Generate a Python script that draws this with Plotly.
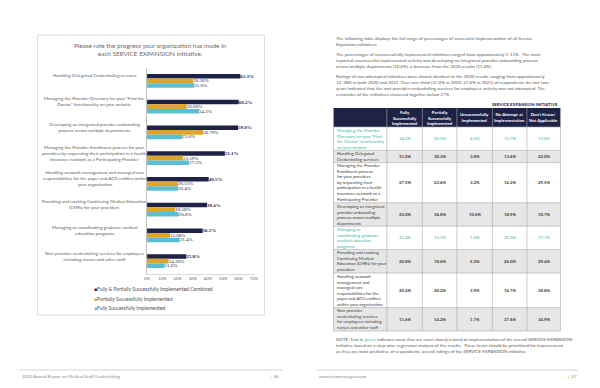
import plotly.graph_objects as go

W, H = 600, 388

# ---------------- data (left chart) ----------------
categories = [
    "Handling Delegated Credentialing services",
    "Managing the Provider Directory for your \"Find the<br>Doctor\" functionality on your website",
    "Developing an integrated provider onboarding<br>process across multiple departments",
    "Managing the Provider Enrollment process for your<br>providers by requesting their participation in a health<br>insurance network as a Participating Provider",
    "Handling network management and managed care<br>responsibilities for the payer and ACO entities within<br>your organization",
    "Providing and tracking Continuing Medical Education<br>(CMEs) for your providers",
    "Managing or coordinating graduate medical<br>education programs",
    "Non-provider credentialing services for employees<br>including nurses and other staff",
]
combined = [61.3, 60.2, 59.8, 51.1, 40.5, 39.4, 36.5, 25.8]
partial = [30.30, 26.00, 36.79, 23.59, 20.15, 18.58, 15.08, 14.20]
fully = [31.0, 34.2, 23.0, 27.5, 20.4, 20.8, 21.4, 11.6]
series_names = [
    "Fully & Partially Successfully Implemented Combined",
    "Partially Successfully Implemented",
    "Fully Successfully Implemented",
]
x_ticks = [0, 10, 20, 30, 40, 50, 60, 70]
x_tick_labels = ["0%", "10%", "20%", "30%", "40%", "50%", "60%", "70%"]

# ---------------- data (right table) ----------------
table_rows = [
    "Managing the Provider<br>Directory for your \"Find<br>the Doctor\" functionality<br>on your website",
    "Handling Delegated<br>Credentialing services",
    "Managing the Provider<br>Enrollment process<br>for your providers<br>by requesting their<br>participation in a health<br>insurance network as a<br>Participating Provider",
    "Developing an integrated<br>provider onboarding<br>process across multiple<br>departments",
    "Managing or<br>coordinating graduate<br>medical education<br>programs",
    "Providing and tracking<br>Continuing Medical<br>Education (CMEs) for your<br>providers",
    "Handling network<br>management and<br>managed care<br>responsibilities for the<br>payer and ACO entities<br>within your organization",
    "Non-provider<br>credentialing services<br>for employees including<br>nurses and other staff",
]
table_headers = [
    "",
    "Fully<br>Successfully<br>Implemented",
    "Partially<br>Successfully<br>Implemented",
    "Unsuccessfully<br>Implemented",
    "No Attempt at<br>Implementation",
    "Don't Know/<br>Not Applicable",
]
t_fully = [34.2, 31.0, 27.5, 23.0, 21.4, 20.8, 20.4, 11.6]
t_partial = [26.0, 30.3, 23.6, 36.8, 15.1, 18.6, 20.2, 14.2]
t_unsucc = [4.5, 3.0, 3.2, 10.6, 5.5, 5.2, 3.9, 1.7]
t_noattempt = [15.7, 13.6, 16.2, 18.9, 20.3, 26.0, 16.7, 37.6]
t_dontknow = [19.6, 22.0, 29.5, 10.7, 37.7, 29.4, 38.8, 34.9]
green_rows = [0, 4]

# ---------------- styles ----------------
NAVY = "#1E2247"
GOLD = "#DFA428"
CYAN = "#5CBED2"
TEAL = "#3DB5A6"
GREY_TXT = "#6B6B6B"
FONT = "Lato"


def px(x):
    return x / W


def py(y):
    return 1 - y / H


fig = go.Figure()
label_font = dict(family="Liberation Serif", size=5, color=NAVY)
for vals, name, color, fmt, bold in [
    (combined, series_names[0], NAVY, "{:.1f}%", True),
    (partial, series_names[1], GOLD, "{:.2f}%", False),
    (fully, series_names[2], CYAN, "{:.1f}%", False),
]:
    txt = [("<b>%s</b>" % fmt.format(v)) if bold else fmt.format(v) for v in vals]
    fig.add_trace(go.Bar(
        y=categories, x=vals, name=name, orientation="h",
        marker=dict(color=color, line=dict(width=0)),
        text=txt, textposition="outside", textfont=label_font,
        cliponaxis=False, constraintext="none", showlegend=False,
        hoverinfo="x+name",
    ))

annotations = []
shapes = []

# category labels (centered text, left of axis)
for c in categories:
    annotations.append(dict(
        xref="paper", yref="y", x=px(93), y=c, text=c, showarrow=False,
        xanchor="center", yanchor="middle", align="center", yshift=5,
        font=dict(family=FONT, size=4.5, color="#5E5E5E"),
    ))
# legend entries
for name, color, yy in zip(series_names, [NAVY, GOLD, CYAN], [289, 299, 308]):
    annotations.append(dict(
        xref="paper", yref="paper", x=px(90), y=py(yy), showarrow=False,
        xanchor="left", yanchor="middle", align="left",
        text="<span style='color:%s'>■</span>%s" % (color, name),
        font=dict(family=FONT, size=5, color="#505050"),
    ))

# ---------------- table (drawn as cells) ----------------
col_edges = [335, 389, 425, 460, 496, 531, 565]
header_top, header_h = 108, 19
LINE_H, ROW_PAD = 5.6, 1.0
BORDER = "#A9A9A9"

shapes.append(dict(type="rect", xref="paper", yref="paper", layer="below",
                   x0=px(col_edges[0]), x1=px(col_edges[-1]),
                   y0=py(header_top + header_h), y1=py(header_top),
                   fillcolor=NAVY, line=dict(width=0)))
for j, htxt in enumerate(table_headers):
    if htxt:
        annotations.append(dict(
            xref="paper", yref="paper", x=px((col_edges[j] + col_edges[j + 1]) / 2),
            y=py(header_top + header_h / 2), text="<b>%s</b>" % htxt, showarrow=False,
            xanchor="center", yanchor="middle", align="center",
            font=dict(family=FONT, size=4.3, color="white")))

value_cols = [t_fully, t_partial, t_unsucc, t_noattempt, t_dontknow]
row_top = header_top + header_h
row_bounds = [row_top]
for i, lab in enumerate(table_rows):
    n_lines = lab.count("<br>") + 1
    h = n_lines * LINE_H + ROW_PAD
    y0, y1 = row_top, row_top + h
    if i % 2 == 1:
        shapes.append(dict(type="rect", xref="paper", yref="paper", layer="below",
                           x0=px(col_edges[0]), x1=px(col_edges[-1]), y0=py(y1), y1=py(y0),
                           fillcolor="#E7E7E7", line=dict(width=0)))
    green = i in green_rows
    color = TEAL if green else "#3A3A3A"
    annotations.append(dict(
        xref="paper", yref="paper", x=px(col_edges[0] + 1.5), y=py((y0 + y1) / 2),
        text=lab, showarrow=False, xanchor="left", yanchor="middle", align="left",
        font=dict(family=FONT, size=4.3, color=color)))
    for j, col in enumerate(value_cols):
        v = "%.1f%%" % col[i]
        annotations.append(dict(
            xref="paper", yref="paper", x=px((col_edges[j + 1] + col_edges[j + 2]) / 2),
            y=py((y0 + y1) / 2), text=v if green else "<b>%s</b>" % v, showarrow=False,
            xanchor="center", yanchor="middle",
            font=dict(family=FONT, size=4.3, color=color)))
    row_top = y1
    row_bounds.append(row_top)

table_bottom = row_top
for yb in row_bounds:
    shapes.append(dict(type="line", xref="paper", yref="paper",
                       x0=px(col_edges[0]), x1=px(col_edges[-1]), y0=py(yb), y1=py(yb),
                       line=dict(color=BORDER, width=0.6)))
for k, xe in enumerate(col_edges):
    shapes.append(dict(type="line", xref="paper", yref="paper",
                       x0=px(xe), x1=px(xe), y0=py(table_bottom), y1=py(header_top),
                       line=dict(color=BORDER, width=0.6)))

# ---------------- right page text ----------------
para_font = dict(family=FONT, size=4.5, color="#5A5A5A")
paras = [
    (34, "The following table displays the full range of percentages of successful implementation of all Service<br>"
         "Expansion initiatives."),
    (50, "The percentages of unsuccessfully implemented initiatives ranged from approximately 1-11%.  The most<br>"
         "reported unsuccessful implemented activity was developing an integrated provider onboarding process<br>"
         "across multiple departments (10.6%), a decrease from the 2020 results (11.4%)."),
    (72, "Ratings of non-attempted initiatives were almost identical to the 2020 results, ranging from approximately<br>"
         "12-38% in both 2020 and 2021. Over one-third (37.0% in 2020, 37.6% in 2021) of respondents the last two<br>"
         "years indicated that the non-provider credentialing services for employees activity was not attempted. The<br>"
         "remainder of the initiatives clustered together below 27%."),
    (335, "NOTE: Text in <span style='color:%s'>green</span> indicates areas that are most closely related to implementation of the overall SERVICE EXPANSION<br>"
          "initiative based on a step-wise regression analysis of the results.  These items should be prioritized for improvement<br>"
          "as they are most predictive of respondents' overall ratings of the SERVICE EXPANSION initiative." % TEAL),
]
for top, t in paras:
    annotations.append(dict(
        xref="paper", yref="paper", x=px(335), y=py(top), text=t, showarrow=False,
        xanchor="left", yanchor="top", align="left", font=para_font,
    ))
annotations.append(dict(
    xref="paper", yref="paper", x=px(565), y=py(105), showarrow=False,
    xanchor="right", yanchor="middle", text="<b>SERVICE EXPANSION INITIATIVE</b>",
    font=dict(family=FONT, size=4.3, color=NAVY),
))
# footers
foot_font = dict(family=FONT, size=4.4, color="#8A8A8A")
annotations += [
    dict(xref="paper", yref="paper", x=px(17), y=py(376), showarrow=False, xanchor="left",
         yanchor="middle", text="2020 Annual Report on Medical Staff Credentialing", font=foot_font),
    dict(xref="paper", yref="paper", x=px(269), y=py(376), showarrow=False, xanchor="left",
         yanchor="middle", text="<span style='color:%s'><b>|</b></span>  26" % GOLD, font=foot_font),
    dict(xref="paper", yref="paper", x=px(318), y=py(376), showarrow=False, xanchor="left",
         yanchor="middle", text="www.hcmstrategies.com", font=foot_font),
    dict(xref="paper", yref="paper", x=px(571), y=py(376), showarrow=False, xanchor="left",
         yanchor="middle", text="<span style='color:%s'><b>|</b></span>  27" % GOLD, font=foot_font),
]

shapes += [
    dict(type="rect", xref="paper", yref="paper", x0=px(35), x1=px(265), y0=py(315), y1=py(35),
         line=dict(color="#D6D6D6", width=0.8), fillcolor="rgba(0,0,0,0)"),
    dict(type="line", xref="paper", yref="paper", x0=px(17), x1=px(283), y0=py(370), y1=py(370),
         line=dict(color="#C8C8C8", width=0.8)),
    dict(type="line", xref="paper", yref="paper", x0=px(318), x1=px(583), y0=py(370), y1=py(370),
         line=dict(color="#C8C8C8", width=0.8)),
]

fig.update_layout(
    width=W, height=H, margin=dict(l=0, r=0, t=0, b=0),
    paper_bgcolor="white", plot_bgcolor="white",
    barmode="group", bargap=0.47, bargroupgap=0,
    title=dict(text="Please rate the progress your organization has made in<br>each SERVICE EXPANSION initiative.",
               x=px(150), y=py(48), xanchor="center", yanchor="middle",
               font=dict(family=FONT, size=6.4, color=GREY_TXT)),
    xaxis=dict(domain=[px(146), px(254)], range=[0, 70], tickvals=x_ticks, ticktext=x_tick_labels,
               showgrid=False, zeroline=False, showline=True, linecolor="#D9D9D9", linewidth=0.6,
               ticks="", tickfont=dict(family=FONT, size=4.3, color=GREY_TXT)),
    yaxis=dict(domain=[py(274), py(68)], autorange="reversed", showticklabels=False,
               showgrid=False, zeroline=False, showline=True, linecolor="#BFBFBF", linewidth=0.6,
               ticks=""),
    annotations=annotations, shapes=shapes,
    font=dict(family=FONT),
)

fig.write_html("out.html", config={"displayModeBar": False},
               post_script="document.body.style.margin='0';")
